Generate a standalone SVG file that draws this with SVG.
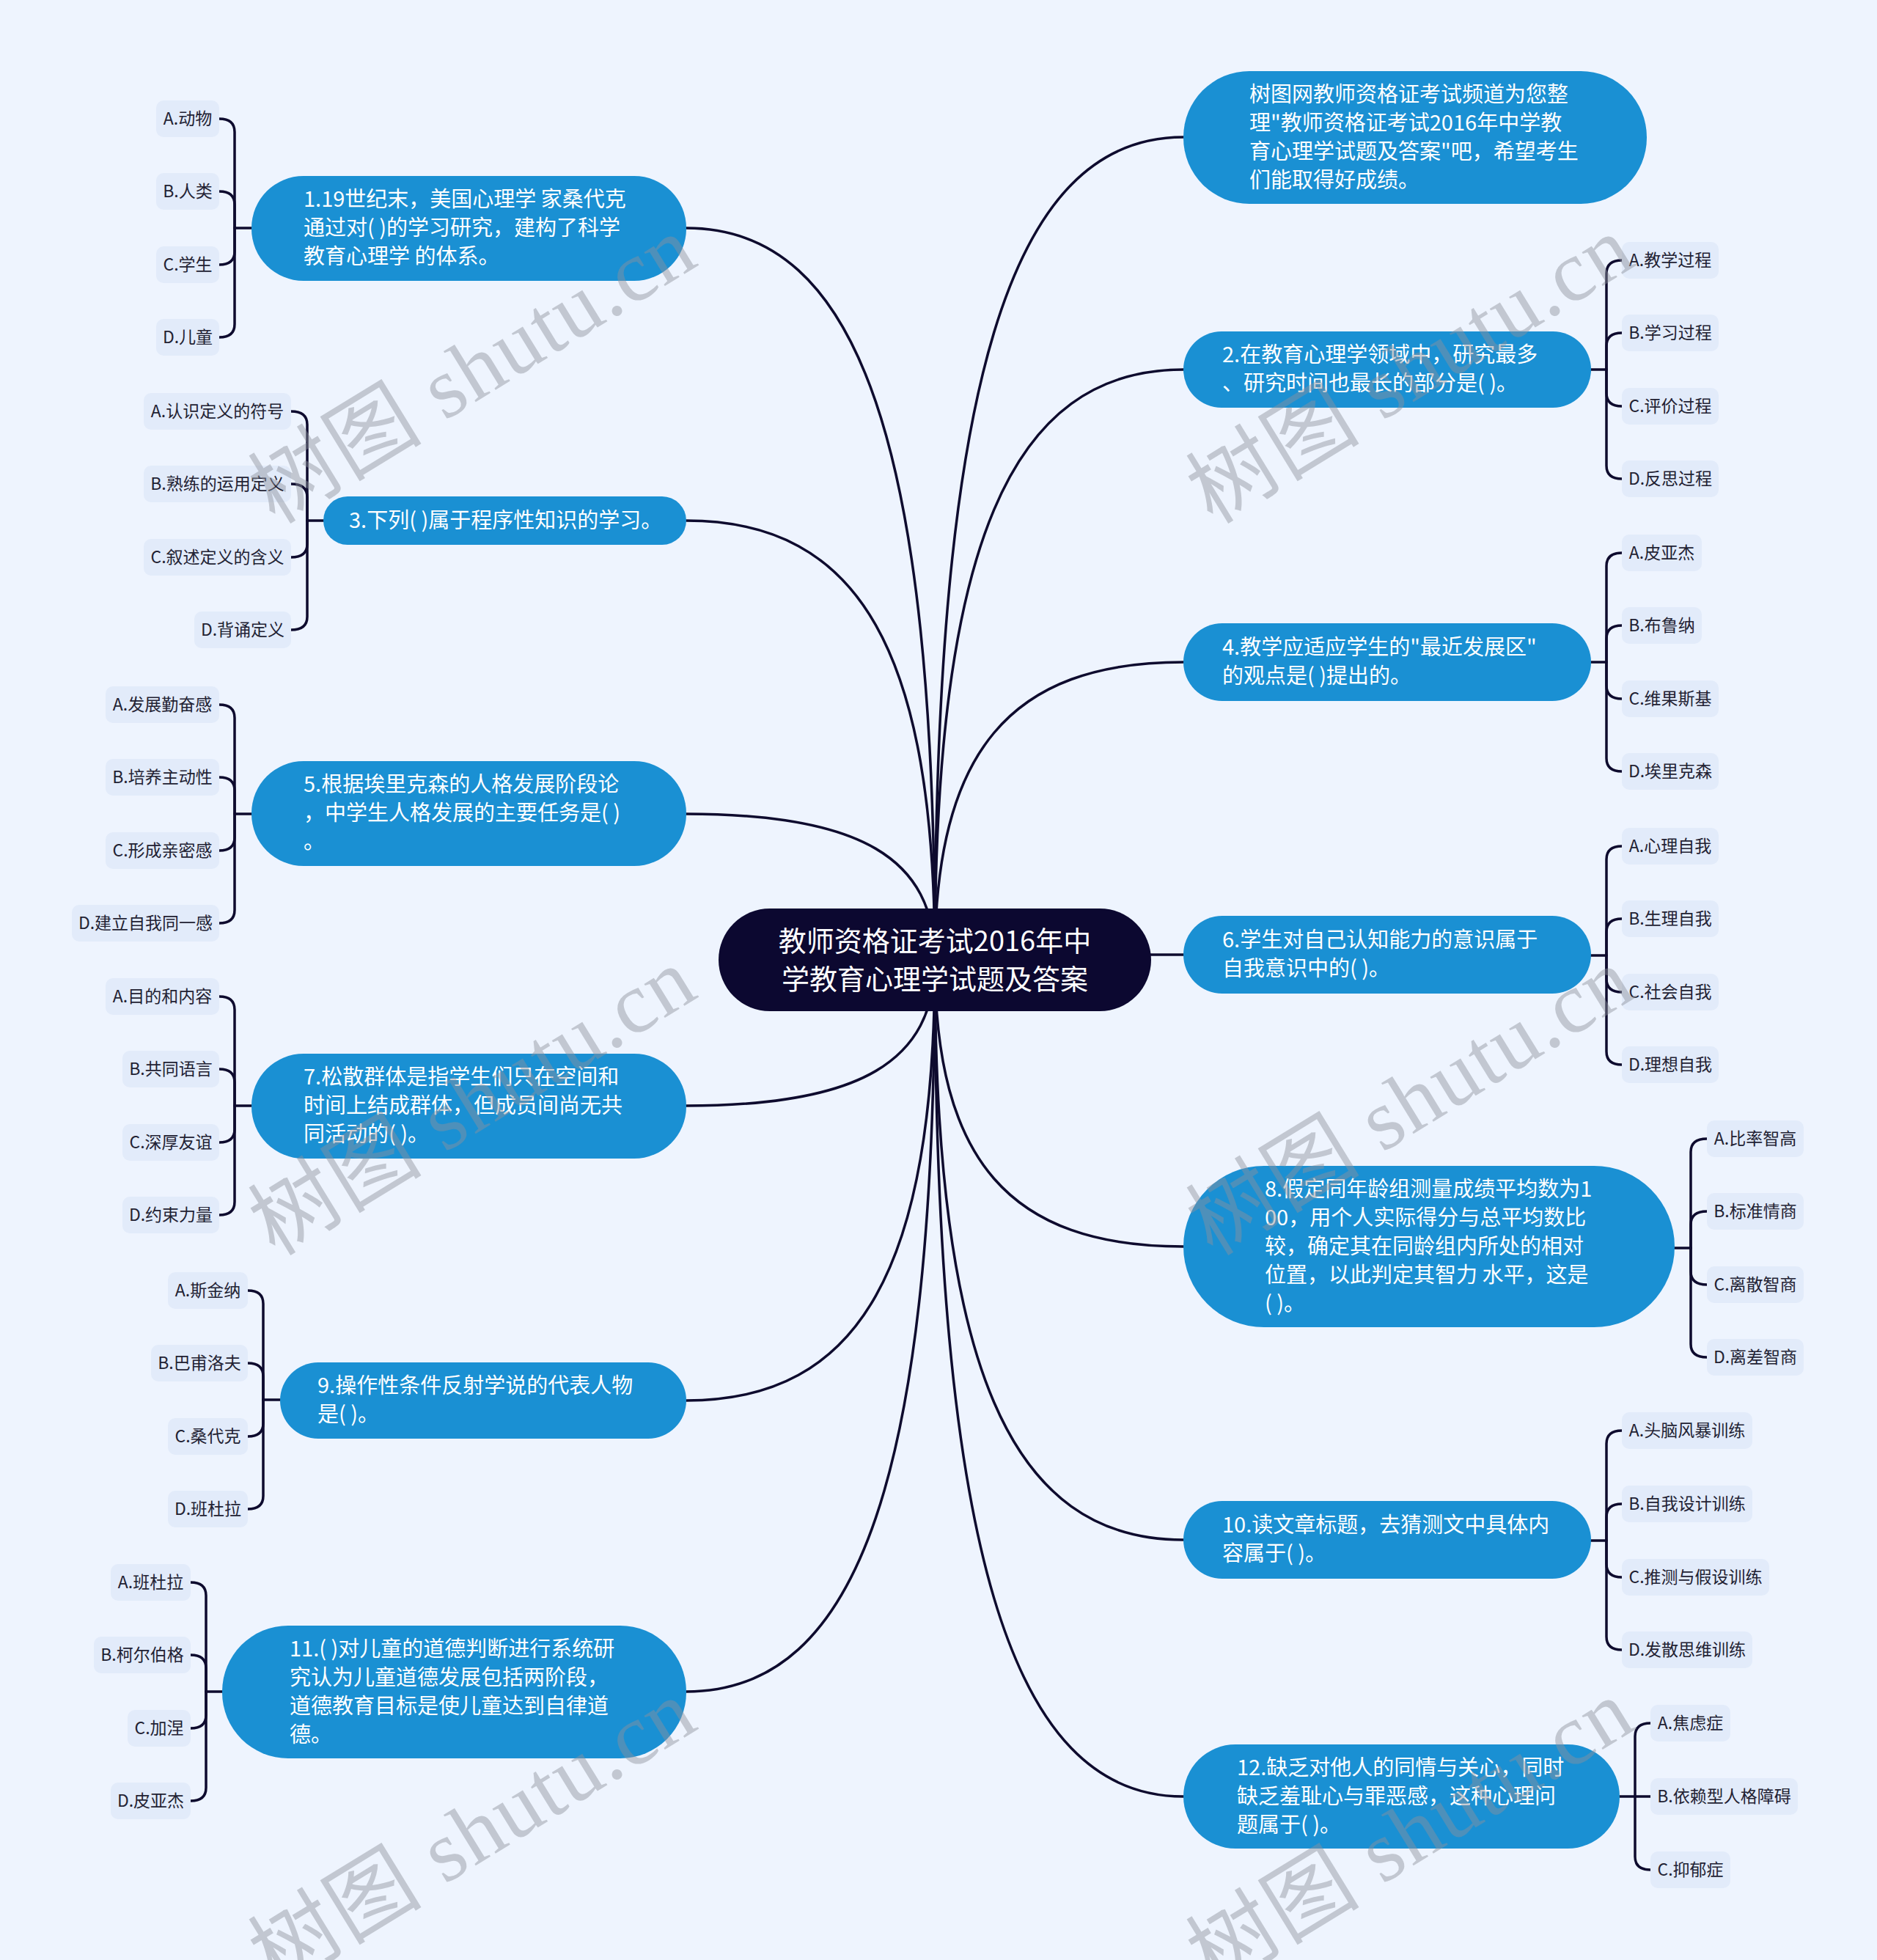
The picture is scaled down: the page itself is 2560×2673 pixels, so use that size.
<svg xmlns="http://www.w3.org/2000/svg" width="2560" height="2673" viewBox="0 0 2560 2673">
<style>
.bg{fill:#eef4fe}
.node rect{fill:#1a90d3}
.node text{font-family:"Noto Sans CJK SC","Noto Sans",sans-serif;font-size:29px;fill:#ffffff}
.root rect{fill:#0c0830}
.root text{font-family:"Noto Sans CJK SC","Noto Sans",sans-serif;font-size:38px;fill:#ffffff;text-anchor:middle}
.opt rect{fill:#e2ebfa}
.opt text{font-family:"Noto Sans CJK SC","Noto Sans",sans-serif;font-size:23px;fill:#222233;text-anchor:middle}
.conn path{fill:none;stroke:#0e0b2e;stroke-width:3.5;stroke-linecap:round}
.wm text{font-family:"Liberation Serif","Noto Sans CJK SC",serif;font-size:118px;fill:#8d929c;opacity:0.45}
</style>
<rect class="bg" x="0" y="0" width="2560" height="2673"/>

<g id="connectors" class="conn">
<path d="M936,311 C1173,311 1275,610 1275,1309"/>
<path d="M936,710 C1173,710 1275,890 1275,1309"/>
<path d="M936,1110 C1173,1110 1275,1170 1275,1309"/>
<path d="M936,1508 C1173,1508 1275,1448 1275,1309"/>
<path d="M936,1910 C1173,1910 1275,1730 1275,1309"/>
<path d="M936,2307 C1173,2307 1275,2008 1275,1309"/>
<path d="M1614,187 C1377,187 1275,524 1275,1309"/>
<path d="M1614,504 C1377,504 1275,746 1275,1309"/>
<path d="M1614,903 C1377,903 1275,1025 1275,1309"/>
<path d="M1614,1302 C1377,1302 1275,1304 1275,1309"/>
<path d="M1614,1700 C1377,1700 1275,1583 1275,1309"/>
<path d="M1614,2100 C1377,2100 1275,1863 1275,1309"/>
<path d="M1614,2450 C1377,2450 1275,2108 1275,1309"/>
<path d="M343,311 H320"/>
<path d="M320,311 V180 Q320,162 299,162"/>
<path d="M320,311 V279 Q320,261 299,261"/>
<path d="M320,311 V343 Q320,361 299,361"/>
<path d="M320,311 V442 Q320,460 299,460"/>
<path d="M441,710 H419"/>
<path d="M419,710 V579 Q419,561 397,561"/>
<path d="M419,710 V678 Q419,660 397,660"/>
<path d="M419,710 V742 Q419,760 397,760"/>
<path d="M419,710 V841 Q419,859 397,859"/>
<path d="M343,1110 H320"/>
<path d="M320,1110 V979 Q320,961 299,961"/>
<path d="M320,1110 V1078 Q320,1060 299,1060"/>
<path d="M320,1110 V1142 Q320,1160 299,1160"/>
<path d="M320,1110 V1241 Q320,1259 299,1259"/>
<path d="M343,1508 H320"/>
<path d="M320,1508 V1377 Q320,1359 299,1359"/>
<path d="M320,1508 V1476 Q320,1458 299,1458"/>
<path d="M320,1508 V1540 Q320,1558 299,1558"/>
<path d="M320,1508 V1639 Q320,1657 299,1657"/>
<path d="M382,1909 H359"/>
<path d="M359,1909 V1778 Q359,1760 338,1760"/>
<path d="M359,1909 V1877 Q359,1859 338,1859"/>
<path d="M359,1909 V1941 Q359,1959 338,1959"/>
<path d="M359,1909 V2040 Q359,2058 338,2058"/>
<path d="M303,2307 H281"/>
<path d="M281,2307 V2176 Q281,2158 260,2158"/>
<path d="M281,2307 V2275 Q281,2257 260,2257"/>
<path d="M281,2307 V2339 Q281,2357 260,2357"/>
<path d="M281,2307 V2438 Q281,2456 260,2456"/>
<path d="M2170,504 H2191"/>
<path d="M2191,504 V373 Q2191,355 2212,355"/>
<path d="M2191,504 V472 Q2191,454 2212,454"/>
<path d="M2191,504 V536 Q2191,554 2212,554"/>
<path d="M2191,504 V635 Q2191,653 2212,653"/>
<path d="M2170,903 H2191"/>
<path d="M2191,903 V772 Q2191,754 2212,754"/>
<path d="M2191,903 V871 Q2191,853 2212,853"/>
<path d="M2191,903 V935 Q2191,953 2212,953"/>
<path d="M2191,903 V1034 Q2191,1052 2212,1052"/>
<path d="M2170,1303 H2191"/>
<path d="M2191,1303 V1172 Q2191,1154 2212,1154"/>
<path d="M2191,1303 V1271 Q2191,1253 2212,1253"/>
<path d="M2191,1303 V1335 Q2191,1353 2212,1353"/>
<path d="M2191,1303 V1434 Q2191,1452 2212,1452"/>
<path d="M2284,1702 H2306"/>
<path d="M2306,1702 V1571 Q2306,1553 2328,1553"/>
<path d="M2306,1702 V1670 Q2306,1652 2328,1652"/>
<path d="M2306,1702 V1734 Q2306,1752 2328,1752"/>
<path d="M2306,1702 V1833 Q2306,1851 2328,1851"/>
<path d="M2170,2101 H2191"/>
<path d="M2191,2101 V1969 Q2191,1951 2212,1951"/>
<path d="M2191,2101 V2069 Q2191,2051 2212,2051"/>
<path d="M2191,2101 V2133 Q2191,2151 2212,2151"/>
<path d="M2191,2101 V2232 Q2191,2250 2212,2250"/>
<path d="M2209,2450 H2251"/>
<path d="M2230,2450 V2368 Q2230,2350 2251,2350"/>
<path d="M2230,2450 V2532 Q2230,2550 2251,2550"/>
</g>

<g id="root" class="root">
<rect x="980" y="1239" width="590" height="140" rx="70"/>
<text x="1275" y="1297">教师资格证考试2016年中</text>
<text x="1275" y="1349">学教育心理学试题及答案</text>
</g>

<g id="n0" class="node">
<rect x="1614" y="97" width="632" height="181" rx="90"/>
<text x="1704" y="139">树图网教师资格证考试频道为您整</text>
<text x="1704" y="178">理"教师资格证考试2016年中学教</text>
<text x="1704" y="217">育心理学试题及答案"吧，希望考生</text>
<text x="1704" y="256">们能取得好成绩。</text>
</g>

<g id="n1" class="node">
<rect x="343" y="240" width="593" height="143" rx="71"/>
<text x="414" y="282">1.19世纪末，美国心理学 家桑代克</text>
<text x="414" y="321">通过对( )的学习研究，建构了科学</text>
<text x="414" y="360">教育心理学 的体系。</text>
</g>
<g id="n1-opts" class="opt">
<rect x="213" y="137" width="86" height="50" rx="10"/><text x="256" y="170">A.动物</text>
<rect x="213" y="236" width="86" height="50" rx="10"/><text x="256" y="269">B.人类</text>
<rect x="213" y="336" width="86" height="50" rx="10"/><text x="256" y="369">C.学生</text>
<rect x="213" y="435" width="86" height="50" rx="10"/><text x="256" y="468">D.儿童</text>
</g>

<g id="n2" class="node">
<rect x="1614" y="452" width="556" height="104" rx="52"/>
<text x="1667" y="494">2.在教育心理学领域中，研究最多</text>
<text x="1667" y="533">、研究时间也最长的部分是( )。</text>
</g>
<g id="n2-opts" class="opt">
<rect x="2212" y="330" width="132" height="50" rx="10"/><text x="2278" y="363">A.教学过程</text>
<rect x="2212" y="429" width="132" height="50" rx="10"/><text x="2278" y="462">B.学习过程</text>
<rect x="2212" y="529" width="132" height="50" rx="10"/><text x="2278" y="562">C.评价过程</text>
<rect x="2212" y="628" width="132" height="50" rx="10"/><text x="2278" y="661">D.反思过程</text>
</g>

<g id="n3" class="node">
<rect x="441" y="677" width="495" height="66" rx="33"/>
<text x="476" y="720">3.下列( )属于程序性知识的学习。</text>
</g>
<g id="n3-opts" class="opt">
<rect x="196" y="536" width="201" height="50" rx="10"/><text x="296.5" y="569">A.认识定义的符号</text>
<rect x="196" y="635" width="201" height="50" rx="10"/><text x="296.5" y="668">B.熟练的运用定义</text>
<rect x="196" y="735" width="201" height="50" rx="10"/><text x="296.5" y="768">C.叙述定义的含义</text>
<rect x="265" y="834" width="132" height="50" rx="10"/><text x="331" y="867">D.背诵定义</text>
</g>

<g id="n4" class="node">
<rect x="1614" y="850" width="556" height="106" rx="53"/>
<text x="1667" y="893">4.教学应适应学生的"最近发展区"</text>
<text x="1667" y="932">的观点是( )提出的。</text>
</g>
<g id="n4-opts" class="opt">
<rect x="2212" y="729" width="109" height="50" rx="10"/><text x="2266.5" y="762">A.皮亚杰</text>
<rect x="2212" y="828" width="109" height="50" rx="10"/><text x="2266.5" y="861">B.布鲁纳</text>
<rect x="2212" y="928" width="132" height="50" rx="10"/><text x="2278" y="961">C.维果斯基</text>
<rect x="2212" y="1027" width="132" height="50" rx="10"/><text x="2278" y="1060">D.埃里克森</text>
</g>

<g id="n5" class="node">
<rect x="343" y="1038" width="593" height="143" rx="71"/>
<text x="414" y="1080">5.根据埃里克森的人格发展阶段论</text>
<text x="414" y="1119">，中学生人格发展的主要任务是( )</text>
<text x="414" y="1158">。</text>
</g>
<g id="n5-opts" class="opt">
<rect x="144" y="936" width="155" height="50" rx="10"/><text x="221.5" y="969">A.发展勤奋感</text>
<rect x="144" y="1035" width="155" height="50" rx="10"/><text x="221.5" y="1068">B.培养主动性</text>
<rect x="144" y="1135" width="155" height="50" rx="10"/><text x="221.5" y="1168">C.形成亲密感</text>
<rect x="98" y="1234" width="201" height="50" rx="10"/><text x="198.5" y="1267">D.建立自我同一感</text>
</g>

<g id="n6" class="node">
<rect x="1614" y="1249" width="556" height="106" rx="53"/>
<text x="1667" y="1292">6.学生对自己认知能力的意识属于</text>
<text x="1667" y="1331">自我意识中的( )。</text>
</g>
<g id="n6-opts" class="opt">
<rect x="2212" y="1129" width="132" height="50" rx="10"/><text x="2278" y="1162">A.心理自我</text>
<rect x="2212" y="1228" width="132" height="50" rx="10"/><text x="2278" y="1261">B.生理自我</text>
<rect x="2212" y="1328" width="132" height="50" rx="10"/><text x="2278" y="1361">C.社会自我</text>
<rect x="2212" y="1427" width="132" height="50" rx="10"/><text x="2278" y="1460">D.理想自我</text>
</g>

<g id="n7" class="node">
<rect x="343" y="1437" width="593" height="143" rx="71"/>
<text x="414" y="1479">7.松散群体是指学生们只在空间和</text>
<text x="414" y="1518">时间上结成群体，但成员间尚无共</text>
<text x="414" y="1557">同活动的( )。</text>
</g>
<g id="n7-opts" class="opt">
<rect x="144" y="1334" width="155" height="50" rx="10"/><text x="221.5" y="1367">A.目的和内容</text>
<rect x="167" y="1433" width="132" height="50" rx="10"/><text x="233" y="1466">B.共同语言</text>
<rect x="167" y="1533" width="132" height="50" rx="10"/><text x="233" y="1566">C.深厚友谊</text>
<rect x="167" y="1632" width="132" height="50" rx="10"/><text x="233" y="1665">D.约束力量</text>
</g>

<g id="n8" class="node">
<rect x="1614" y="1590" width="670" height="220" rx="110"/>
<text x="1725" y="1632">8.假定同年龄组测量成绩平均数为1</text>
<text x="1725" y="1671">00，用个人实际得分与总平均数比</text>
<text x="1725" y="1710">较，确定其在同龄组内所处的相对</text>
<text x="1725" y="1749">位置，以此判定其智力 水平，这是</text>
<text x="1725" y="1788">( )。</text>
</g>
<g id="n8-opts" class="opt">
<rect x="2328" y="1528" width="132" height="50" rx="10"/><text x="2394" y="1561">A.比率智高</text>
<rect x="2328" y="1627" width="132" height="50" rx="10"/><text x="2394" y="1660">B.标准情商</text>
<rect x="2328" y="1727" width="132" height="50" rx="10"/><text x="2394" y="1760">C.离散智商</text>
<rect x="2328" y="1826" width="132" height="50" rx="10"/><text x="2394" y="1859">D.离差智商</text>
</g>

<g id="n9" class="node">
<rect x="382" y="1858" width="554" height="104" rx="52"/>
<text x="433" y="1900">9.操作性条件反射学说的代表人物</text>
<text x="433" y="1939">是( )。</text>
</g>
<g id="n9-opts" class="opt">
<rect x="229" y="1735" width="109" height="50" rx="10"/><text x="283.5" y="1768">A.斯金纳</text>
<rect x="206" y="1834" width="132" height="50" rx="10"/><text x="272" y="1867">B.巴甫洛夫</text>
<rect x="229" y="1934" width="109" height="50" rx="10"/><text x="283.5" y="1967">C.桑代克</text>
<rect x="229" y="2033" width="109" height="50" rx="10"/><text x="283.5" y="2066">D.班杜拉</text>
</g>

<g id="n10" class="node">
<rect x="1614" y="2047" width="556" height="106" rx="53"/>
<text x="1667" y="2090">10.读文章标题，去猜测文中具体内</text>
<text x="1667" y="2129">容属于( )。</text>
</g>
<g id="n10-opts" class="opt">
<rect x="2212" y="1926" width="178" height="50" rx="10"/><text x="2301" y="1959">A.头脑风暴训练</text>
<rect x="2212" y="2026" width="178" height="50" rx="10"/><text x="2301" y="2059">B.自我设计训练</text>
<rect x="2212" y="2126" width="201" height="50" rx="10"/><text x="2312.5" y="2159">C.推测与假设训练</text>
<rect x="2212" y="2225" width="178" height="50" rx="10"/><text x="2301" y="2258">D.发散思维训练</text>
</g>

<g id="n11" class="node">
<rect x="303" y="2217" width="633" height="181" rx="90"/>
<text x="395" y="2259">11.( )对儿童的道德判断进行系统研</text>
<text x="395" y="2298">究认为儿童道德发展包括两阶段，</text>
<text x="395" y="2337">道德教育目标是使儿童达到自律道</text>
<text x="395" y="2376">德。</text>
</g>
<g id="n11-opts" class="opt">
<rect x="151" y="2133" width="109" height="50" rx="10"/><text x="205.5" y="2166">A.班杜拉</text>
<rect x="128" y="2232" width="132" height="50" rx="10"/><text x="194" y="2265">B.柯尔伯格</text>
<rect x="174" y="2332" width="86" height="50" rx="10"/><text x="217" y="2365">C.加涅</text>
<rect x="151" y="2431" width="109" height="50" rx="10"/><text x="205.5" y="2464">D.皮亚杰</text>
</g>

<g id="n12" class="node">
<rect x="1614" y="2379" width="595" height="142" rx="71"/>
<text x="1687" y="2421">12.缺乏对他人的同情与关心，同时</text>
<text x="1687" y="2460">缺乏羞耻心与罪恶感，这种心理问</text>
<text x="1687" y="2499">题属于( )。</text>
</g>
<g id="n12-opts" class="opt">
<rect x="2251" y="2325" width="109" height="50" rx="10"/><text x="2305.5" y="2358">A.焦虑症</text>
<rect x="2251" y="2425" width="201" height="50" rx="10"/><text x="2351.5" y="2458">B.依赖型人格障碍</text>
<rect x="2251" y="2525" width="109" height="50" rx="10"/><text x="2305.5" y="2558">C.抑郁症</text>
</g>

<g id="watermarks" class="wm">
<text x="375" y="716" transform="rotate(-31.5 375 716)" textLength="680" lengthAdjust="spacing">树图 shutu.cn</text>
<text x="1654" y="716" transform="rotate(-31.5 1654 716)" textLength="680" lengthAdjust="spacing">树图 shutu.cn</text>
<text x="375" y="1714" transform="rotate(-31.5 375 1714)" textLength="680" lengthAdjust="spacing">树图 shutu.cn</text>
<text x="1654" y="1714" transform="rotate(-31.5 1654 1714)" textLength="680" lengthAdjust="spacing">树图 shutu.cn</text>
<text x="375" y="2712" transform="rotate(-31.5 375 2712)" textLength="680" lengthAdjust="spacing">树图 shutu.cn</text>
<text x="1654" y="2712" transform="rotate(-31.5 1654 2712)" textLength="680" lengthAdjust="spacing">树图 shutu.cn</text>
</g>
</svg>
